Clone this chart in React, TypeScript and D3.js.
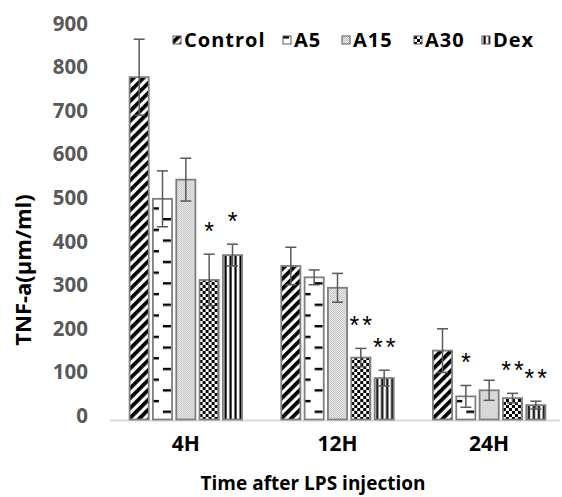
import React from 'react';
import * as d3 from 'd3';

// chart values
const categories = ['4H', '12H', '24H'];
const seriesNames = ['Control', 'A5', 'A15', 'A30', 'Dex'];
const controlVals = [785, 352, 158];
const controlErr = [87, 43, 50];
const a5Vals = [506, 326, 53];
const a5Err = [64, 17, 25];
const a15Vals = [550, 302, 67];
const a15Err = [49, 33, 23];
const a30Vals = [320, 142, 49];
const a30Err = [59, 21, 11];
const dexVals = [377, 95, 33];
const dexErr = [25, 18, 9];
const yTicks = [0, 100, 200, 300, 400, 500, 600, 700, 800, 900];
// significance marks: [category, series, label]
const marks: [string, string, string][] = [
  ['4H', 'A30', '*'],
  ['4H', 'Dex', '*'],
  ['12H', 'A30', '**'],
  ['12H', 'Dex', '**'],
  ['24H', 'A5', '*'],
  ['24H', 'A30', '**'],
  ['24H', 'Dex', '**'],
];

const W = 562;
const H = 497;
const FONT = '"Open Sans", Lato, sans-serif';

const seriesData = [
  { name: 'Control', vals: controlVals, err: controlErr, fill: 'url(#pat-control)' },
  { name: 'A5', vals: a5Vals, err: a5Err, fill: 'url(#pat-a5)' },
  { name: 'A15', vals: a15Vals, err: a15Err, fill: 'url(#pat-a15)' },
  { name: 'A30', vals: a30Vals, err: a30Err, fill: 'url(#pat-a30)' },
  { name: 'Dex', vals: dexVals, err: dexErr, fill: 'url(#pat-dex)' },
];

// legend x positions of the swatches
const legendX = [173, 283, 342, 414, 482];

export default function App() {
  const x = d3.scaleBand().domain(categories).range([110, 565]);
  const xi = d3
    .scaleBand()
    .domain(seriesNames)
    .range([0, x.bandwidth()])
    .paddingInner(0.18)
    .paddingOuter(0.84);
  const y = d3.scaleLinear().domain([0, 900]).range([419.5, 27]);
  const bw = xi.bandwidth();

  return (
    <svg width={W} height={H} style={{ position: 'absolute', left: 0, top: 0 }} fontFamily={FONT}>
      <defs>
        <pattern id="pat-control" patternUnits="userSpaceOnUse" width={7} height={7} patternTransform="rotate(45)">
          <rect width={7} height={7} fill="#fff" />
          <rect width={3.8} height={7} fill="#000" />
        </pattern>
        <pattern id="pat-a5" patternUnits="userSpaceOnUse" width={60} height={21.4} y={4}>
          <rect width={60} height={21.4} fill="#fff" />
          <rect x={10} y={0} width={8} height={2.4} fill="#000" />
          <rect x={0} y={10.7} width={6} height={2.4} fill="#000" />
        </pattern>
        <pattern id="pat-a15" patternUnits="userSpaceOnUse" width={2} height={2}>
          <rect width={2} height={2} fill="#eeeeee" />
          <rect width={1} height={1} fill="#c2c2c2" />
          <rect x={1} y={1} width={1} height={1} fill="#c2c2c2" />
        </pattern>
        <pattern id="pat-a30" patternUnits="userSpaceOnUse" width={6} height={6}>
          <rect width={6} height={6} fill="#fff" />
          <rect width={3} height={3} fill="#000" />
          <rect x={3} y={3} width={3} height={3} fill="#000" />
        </pattern>
        <pattern id="pat-dex" patternUnits="userSpaceOnUse" width={5} height={10}>
          <rect width={5} height={10} fill="#fff" />
          <rect x={1.5} width={2.2} height={10} fill="#000" />
        </pattern>
      </defs>

      {/* baseline */}
      <line x1={110} x2={560} y1={y(0) + 1} y2={y(0) + 1} stroke="#d9d9d9" strokeWidth={2} />

      {/* y tick labels */}
      {yTicks.map((t) => (
        <text key={t} x={88} y={y(t)} dy="0.32em" textAnchor="end"
          fontSize={20.5} fontWeight="bold" fill="#595959" transform="translate(0,-3)">
          {t}
        </text>
      ))}

      {/* bars */}
      {seriesData.map((s) =>
        s.vals.map((v, i) => {
          const bx = (x(categories[i]) ?? 0) + (xi(s.name) ?? 0);
          return (
            <g key={s.name + i} transform={`translate(${bx},0)`}>
              <rect x={0} y={y(v)} width={bw} height={y(0) - y(v)} fill={s.fill} stroke="#7f7f7f" strokeWidth={1.8} />
            </g>
          );
        })
      )}

      {/* error bars */}
      {seriesData.map((s) =>
        s.vals.map((v, i) => {
          const cx = (x(categories[i]) ?? 0) + (xi(s.name) ?? 0) + bw / 2;
          const top = y(v + s.err[i]);
          const bot = y(v - s.err[i]);
          return (
            <g key={'e' + s.name + i} stroke="#595959" strokeWidth={1.5}>
              <line x1={cx} x2={cx} y1={top} y2={bot} />
              <line x1={cx - 5.5} x2={cx + 5.5} y1={top} y2={top} />
              <line x1={cx - 5.5} x2={cx + 5.5} y1={bot} y2={bot} />
            </g>
          );
        })
      )}

      {/* significance marks */}
      {marks.map(([c, sn, label]) => {
        const s = seriesData.find((d) => d.name === sn)!;
        const i = categories.indexOf(c);
        const cx = (x(c) ?? 0) + (xi(sn) ?? 0) + bw / 2;
        const top = y(s.vals[i] + s.err[i]);
        return (
          <text key={c + sn} x={cx + 1.5} y={top - 14} textAnchor="middle" fontSize={25}
            fontFamily="'Liberation Sans', Arial, sans-serif" letterSpacing={3} fill="#000">
            {label}
          </text>
        );
      })}

      {/* x category labels */}
      {categories.map((c) => (
        <text key={c} x={(x(c) ?? 0) + x.bandwidth() / 2} y={451} textAnchor="middle"
          fontSize={21} fontWeight="bold" fill="#000">
          {c}
        </text>
      ))}

      {/* axis titles */}
      <text x={313} y={490} textAnchor="middle" fontSize={19} fontWeight="bold" fill="#000">
        Time after LPS injection
      </text>
      <text transform="translate(31,270) rotate(-90)" textAnchor="middle" fontSize={22} fontWeight="bold" fill="#000">
        TNF-a(μm/ml)
      </text>

      {/* legend */}
      {seriesData.map((s, k) => (
        <g key={'l' + s.name} transform={`translate(${legendX[k]},0)`}>
          <rect x={0} y={36} width={8} height={8} fill={s.fill} stroke="#595959" strokeWidth={1} />
          <text x={11} y={47} fontSize={20} letterSpacing={1} fontWeight="bold" fill="#000">
            {s.name}
          </text>
        </g>
      ))}
    </svg>
  );
}
